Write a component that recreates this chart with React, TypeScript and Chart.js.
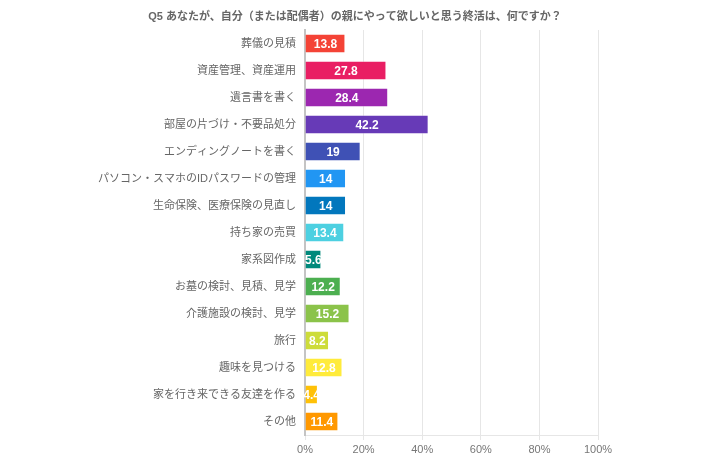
import React, { useEffect, useRef } from "react";
import { Chart, registerables } from "chart.js";

Chart.register(...registerables);

const titleText = "Q5 あなたが、自分（または配偶者）の親にやって欲しいと思う終活は、何ですか？";
const categories = [
  "葬儀の見積",
  "資産管理、資産運用",
  "遺言書を書く",
  "部屋の片づけ・不要品処分",
  "エンディングノートを書く",
  "パソコン・スマホのIDパスワードの管理",
  "生命保険、医療保険の見直し",
  "持ち家の売買",
  "家系図作成",
  "お墓の検討、見積、見学",
  "介護施設の検討、見学",
  "旅行",
  "趣味を見つける",
  "家を行き来できる友達を作る",
  "その他",
];
const values = [13.8, 27.8, 28.4, 42.2, 19, 14, 14, 13.4, 5.6, 12.2, 15.2, 8.2, 12.8, 4.4, 11.4];
const colors = [
  "#F44336", "#E91E63", "#9C27B0", "#673AB7", "#3F51B5",
  "#2196F3", "#0277BD", "#4DD0E1", "#00897B", "#4CAF50",
  "#8BC34A", "#CDDC39", "#FFEB3B", "#FFC107", "#FF9800",
];
const xTicks = [0, 20, 40, 60, 80, 100];

const FONT = "'Liberation Sans', Arial, 'Noto Sans CJK JP', sans-serif";

const labelPlugin = {
  id: "barLabels",
  afterDatasetsDraw(chart: any) {
    const ctx = chart.ctx;
    const meta = chart.getDatasetMeta(0);
    ctx.save();
    ctx.font = `bold 12px ${FONT}`;
    ctx.fillStyle = "#ffffff";
    ctx.textAlign = "center";
    ctx.textBaseline = "middle";
    meta.data.forEach((bar: any, i: number) => {
      const x = (bar.x + bar.base) / 2;
      ctx.fillText(String(values[i]), x, bar.y + 1);
    });
    ctx.restore();
  },
};

const titlePlugin = {
  id: "customTitle",
  afterDraw(chart: any) {
    const ctx = chart.ctx;
    ctx.save();
    ctx.font = `bold 11px ${FONT}`;
    ctx.fillStyle = "#666";
    ctx.textAlign = "center";
    ctx.textBaseline = "middle";
    ctx.fillText(titleText, 355, 17);
    ctx.restore();
  },
};

export default function App() {
  const ref = useRef<HTMLCanvasElement>(null);
  useEffect(() => {
    document.body.style.margin = "0";
    const chart = new Chart(ref.current!, {
      type: "bar",
      data: {
        labels: categories,
        datasets: [
          {
            data: values,
            backgroundColor: colors,
            borderColor: "rgba(255,255,255,0.35)",
            borderWidth: 1,
            barPercentage: 0.72,
            categoryPercentage: 1,
          },
        ],
      },
      options: {
        indexAxis: "y",
        animation: false,
        responsive: false,
        layout: { padding: { left: 0, right: 122, top: 30, bottom: 0 } },
        plugins: {
          legend: { display: false },
          tooltip: { enabled: false },
          title: { display: false },
        },
        scales: {
          x: {
            min: 0,
            max: 100,
            ticks: {
              stepSize: 20,
              color: "#777",
              font: { family: FONT, size: 11 },
              padding: 3,
              callback: (v: any) => (xTicks.includes(Number(v)) ? v + "%" : ""),
            },
            grid: { color: "#e6e6e6", tickLength: 5 },
            border: { color: "#e6e6e6" },
            afterFit: (s: any) => { s.height = 35; },
          },
          y: {
            ticks: {
              color: "#666",
              font: { family: FONT, size: 11 },
              padding: 9,
            },
            grid: { display: false, drawTicks: false },
            border: { color: "#c4c4c4", width: 2 },
            afterFit: (s: any) => { s.width = 305; },
          },
        },
      },
      plugins: [labelPlugin, titlePlugin],
    });
    return () => chart.destroy();
  }, []);
  return <canvas ref={ref} width={720} height={470} style={{ display: "block" }} />;
}
